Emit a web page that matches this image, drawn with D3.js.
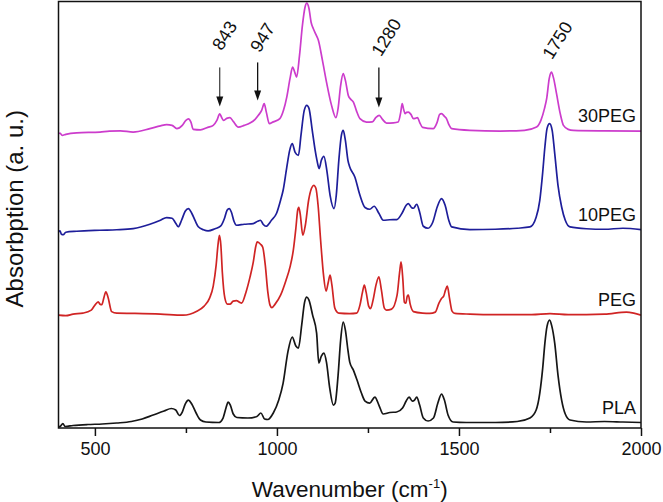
<!DOCTYPE html>
<html><head><meta charset="utf-8">
<script src="https://cdn.jsdelivr.net/npm/d3@7"></script>
<style>body{margin:0;background:#fff}svg{display:block}text{font-family:"Liberation Sans",Arial,sans-serif;fill:#111}</style>
</head><body><svg id="c" width="663" height="502"></svg>
<script>
// ---- data (wavenumber cm-1, absorption a.u. with vertical offsets as plotted) ----
const xDomain=[400,2000];
const yDomain=[0,427];
const xTicksMajor=[500,1000,1500,2000];
const xTicksMinor=[750,1250,1750];
const seriesNames=["PLA","PEG","10PEG","30PEG"];
const seriesColors=["#161616","#d02424","#1e1e9a","#cc3ccc"];

const PLA=[[400,1],[406,2],[412,4.5],[418,1.5],[440,2.5],[480,3.5],[520,4],[560,5],[600,6.5],[630,9],[660,13],[690,17],[710,19.5],[722,18],[732,12.5],[740,16],[748,24],[757,28],[766,24],[778,15],[790,8],[805,6],[840,5.5],[852,10],[860,20],[866,26],[872,23],[880,14],[890,10.5],[920,10],[945,11.5],[956,15],[966,9],[975,8.5],[990,15],[1005,28],[1017,45],[1030,76],[1042,91],[1052,82],[1059,80],[1068,103],[1076,126],[1082,131],[1088,128],[1098,113],[1109,95],[1115,65],[1122,72],[1129,75],[1136,66],[1145,40],[1155,23],[1160,25],[1168,53],[1175,88],[1182,106],[1188,98],[1195,78],[1200,66],[1210,58],[1220,48],[1232,35],[1242,27],[1255,25],[1269,31],[1280,23],[1292,14],[1310,15.5],[1329,16],[1345,20],[1355,27],[1363,31],[1372,27],[1378,28],[1384,31],[1392,23],[1402,10],[1415,7],[1430,10],[1442,25],[1452,34],[1460,28],[1470,13],[1484,6],[1520,5.5],[1600,5.5],[1660,6.5],[1695,10],[1712,18],[1722,35],[1730,60],[1736,85],[1742,102],[1749,108],[1755,102],[1763,85],[1772,53],[1782,28],[1792,14],[1805,8],[1850,6],[1900,6.5],[1950,6],[2000,5.5]];

const PEG=[[400,113],[420,112.5],[440,114],[467,115],[490,118],[500,123],[509,126.3],[514,124],[519,123.5],[525,131],[530,136.3],[536,131],[546,116.5],[560,115],[605,114.7],[680,114],[742,113],[780,117],[800,122],[815,130],[825,142],[833,163],[838,183],[842,193],[846,183],[850,156],[857,130],[864,124],[871,124],[880,127],[889,127.5],[897,126],[903,125],[915,136],[926,151],[935,166],[942,182],[946,186.3],[955,184],[961,181],[968,163],[975,136],[981,123],[986,120.5],[995,124],[1010,133],[1025,148],[1036,161.3],[1045,178],[1052,200],[1057,218],[1060,221],[1064,214],[1071,193],[1078,203],[1087,228],[1095,240],[1101,243],[1107,240],[1113,223],[1120,188],[1128,153],[1135,137],[1141,146],[1146,153],[1151,143],[1159,120],[1170,115],[1200,114.5],[1219,115],[1228,123],[1235,136],[1240,143],[1245,136],[1252,122],[1257,119.5],[1264,128],[1272,143],[1280,151.3],[1287,138],[1295,120],[1301,118],[1315,119],[1330,133],[1337,156],[1341,166.3],[1346,148],[1350,126],[1354,125],[1358,132],[1361,133],[1366,124],[1375,116.5],[1400,115],[1420,114.7],[1435,116],[1445,125],[1452,129.7],[1458,132],[1463,138],[1468,142],[1474,130],[1481,117],[1489,114.7],[1530,114],[1600,113.5],[1700,113.5],[1750,114.5],[1800,113.5],[1900,114],[1960,116],[1980,115],[2000,113]];

const PEG10=[[400,196.3],[404,197.5],[408,194],[413,193.5],[420,196],[450,197],[514,198],[560,198.5],[605,199.7],[651,204],[680,208],[697,210.7],[712,210],[722,205],[729,201.5],[738,208],[748,217],[757,219.7],[766,215],[776,207],[784,201.5],[798,198.5],[811,197.3],[830,199.5],[845,202],[856,210],[863,218],[869,219.7],[875,216],[882,207],[889,203],[910,204],[935,204.7],[947,207],[955,208],[962,204],[970,202],[985,208],[999,215],[1010,228],[1017,238],[1027,261],[1035,278],[1042,284.7],[1050,276],[1059,273],[1066,293],[1075,318],[1082,323],[1088,320],[1097,298],[1105,278],[1110,268],[1116,259.7],[1122,268],[1129,272],[1137,258],[1146,233],[1157,219.7],[1163,233],[1170,268],[1177,293],[1182,298],[1188,288],[1195,268],[1200,261.3],[1214,251.3],[1228,233],[1242,220.7],[1255,219],[1267,222],[1280,215],[1292,208],[1310,208.5],[1329,208.7],[1345,216],[1355,223],[1361,224.7],[1370,220.5],[1375,220],[1384,224],[1392,216],[1402,202],[1415,200],[1428,206],[1440,221],[1452,229.7],[1462,223],[1472,208],[1480,201.3],[1530,198.7],[1600,199],[1660,200],[1695,201.3],[1712,211],[1722,228],[1730,256],[1736,281.3],[1742,300],[1749,304.7],[1756,298],[1763,275],[1772,243],[1782,221.3],[1792,208],[1805,201.3],[1850,199.5],[1900,199],[1950,200],[2000,198.7]];

const PEG30=[[400,295.3],[405,295],[410,293],[420,294],[450,295.5],[514,296.3],[540,297.3],[570,297.5],[605,296.3],[651,299.7],[680,302.5],[697,303.7],[712,303],[725,299.7],[740,303],[750,308],[757,309.5],[764,306],[770,299],[790,298.5],[810,301],[825,303],[835,308],[843,314.5],[848,311],[853,308],[862,310],[871,310.7],[880,307],[894,301.3],[910,303],[926,305.3],[940,309],[949,313],[958,318],[965,324.7],[971,316],[979,304.7],[990,306.5],[1008,309.7],[1018,318],[1027,331.3],[1036,350],[1043,361.3],[1049,356],[1054,351.3],[1062,373],[1070,403],[1077,421],[1082,425.3],[1088,420],[1094,406],[1100,399.7],[1107,394],[1114,388],[1125,368],[1137,344.7],[1150,323],[1162,310.7],[1168,320],[1175,343],[1182,354.7],[1188,348],[1196,333],[1203,329],[1210,326.3],[1218,318],[1228,309.7],[1246,306.3],[1262,306.5],[1272,311],[1281,313],[1290,309],[1301,305.3],[1320,305.5],[1333,306.3],[1340,316],[1344,324.7],[1348,319],[1352,314.7],[1356,316],[1361,316.3],[1368,314],[1375,309.7],[1380,310],[1386,310.7],[1392,306],[1400,301],[1429,299.7],[1440,306],[1447,314],[1452,314.7],[1460,312],[1466,309.5],[1472,304],[1480,299.7],[1530,298],[1613,297.3],[1680,298],[1713,301.3],[1725,308],[1735,320],[1741,330],[1748,350],[1754,356.3],[1760,350],[1768,334.7],[1778,315],[1787,303],[1800,299],[1814,298],[1900,297.5],[2000,297.3]];

const seriesData=[PLA,PEG,PEG10,PEG30];

// peak annotations: wavenumber, label, arrow start / tip (a.u.), label level (a.u.)
const arrowWaves=[843,947,1280];
const arrowTops=[361,366,361];
const arrowTips=[322,328,321];
const annotLabels=["843","947","1280","1750"];
const annotWaves=[843,947,1280,1750];
const annotLevels=[377,375,371,368];

// ---- layout ----
const W=663,H=502;
const m={left:58.5,right:22,top:1.5,bottom:74};
const svg=d3.select("#c");
const x=d3.scaleLinear().domain(xDomain).range([m.left,W-m.right]);
const y=d3.scaleLinear().domain(yDomain).range([H-m.bottom,m.top]);

svg.append("defs").append("clipPath").attr("id","clip").append("rect")
  .attr("x",m.left).attr("y",m.top).attr("width",W-m.right-m.left).attr("height",H-m.bottom-m.top);

const line=d3.line().x(d=>x(d[0])).y(d=>y(d[1])).curve(d3.curveMonotoneX);
const g=svg.append("g").attr("clip-path","url(#clip)");
seriesData.forEach((s,i)=>{
  g.append("path").datum(s).attr("d",line).attr("fill","none")
   .attr("stroke",seriesColors[i]).attr("stroke-width",1.7).attr("stroke-linejoin","round");
});

// series labels
seriesData.forEach((s,i)=>{
  const last=s[s.length-1];
  svg.append("text").attr("x",x(last[0])-5).attr("y",y(last[1])-9)
    .attr("text-anchor","end").attr("font-size",18).text(seriesNames[i]);
});

// arrows
arrowWaves.forEach((w,i)=>{
  const ax=x(w), y0=y(arrowTops[i]), y1=y(arrowTips[i]);
  svg.append("line").attr("x1",ax).attr("x2",ax).attr("y1",y0).attr("y2",y1-9)
    .attr("stroke","#111").attr("stroke-width",i===0?1:1.3);
  svg.append("path").attr("d",`M${ax-3.5},${y1-10}L${ax+3.5},${y1-10}L${ax},${y1}Z`).attr("fill","#111");
});
// annotation labels
annotWaves.forEach((w,i)=>{
  const px=x(w)+2, py=y(annotLevels[i]);
  svg.append("text").attr("transform",`translate(${px},${py}) rotate(-58)`)
    .attr("font-size",18).text(annotLabels[i]);
});

// frame
svg.append("rect").attr("x",m.left).attr("y",m.top).attr("width",W-m.right-m.left).attr("height",H-m.bottom-m.top)
  .attr("fill","none").attr("stroke","#111").attr("stroke-width",1.5);

// x axis
const xa=svg.append("g").attr("transform",`translate(0,${H-m.bottom})`)
  .call(d3.axisBottom(x).tickValues(xTicksMajor).tickSize(8).tickPadding(6).tickFormat(d3.format("d")));
xa.select(".domain").remove();
xa.selectAll(".tick line").attr("stroke","#111").attr("stroke-width",1.5);
xa.selectAll(".tick text").attr("font-size",18).attr("font-family",'"Liberation Sans",Arial,sans-serif').attr("fill","#111");
const xm=svg.append("g").attr("transform",`translate(0,${H-m.bottom})`)
  .call(d3.axisBottom(x).tickValues(xTicksMinor).tickSize(5).tickFormat(""));
xm.select(".domain").remove();
xm.selectAll(".tick line").attr("stroke","#111").attr("stroke-width",1.5);

// axis titles
const xt=svg.append("text").attr("x",(m.left+W-m.right)/2).attr("y",497).attr("text-anchor","middle").attr("font-size",22.5);
xt.append("tspan").text("Wavenumber (cm");
xt.append("tspan").attr("font-size",13).attr("dy",-9).text("-1");
xt.append("tspan").attr("dy",9).text(")");

svg.append("text").attr("transform",`translate(23,${(m.top+H-m.bottom)/2-6}) rotate(-90)`)
  .attr("text-anchor","middle").attr("font-size",24).text("Absorbption (a. u.)");
</script></body></html>
